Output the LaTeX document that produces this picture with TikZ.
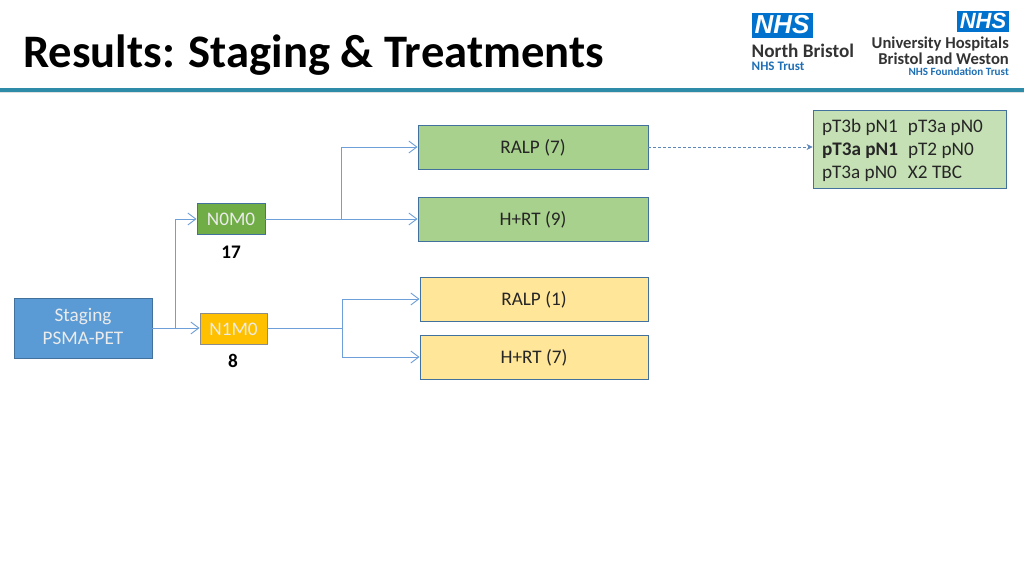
\documentclass[tikz,border=0pt]{standalone}
\usepackage{fontspec}
\setmainfont{Carlito}
\newfontfamily\logofont{Liberation Sans}
\usetikzlibrary{arrows.meta}
\definecolor{edgeblue}{HTML}{41719C}
\definecolor{linkblue}{HTML}{6E9FD8}
\definecolor{stageblue}{HTML}{5B9BD5}
\definecolor{ngreen}{HTML}{70AD47}
\definecolor{nyellow}{HTML}{FFC000}
\definecolor{boxgreen}{HTML}{A9D18E}
\definecolor{boxyellow}{HTML}{FFE699}
\definecolor{palegreen}{HTML}{C5E0B4}
\definecolor{bodytext}{HTML}{262626}
\definecolor{ruleteal}{HTML}{2F8CA8}
\definecolor{nhsblue}{HTML}{0072CE}
\definecolor{logoblue}{HTML}{1F6FB5}
\definecolor{logotext}{HTML}{333333}
\tikzset{
  box/.style={draw=edgeblue,line width=0.9pt,inner sep=0pt,font=\fontsize{19.2}{23}\selectfont,text=bodytext},
  oneline/.style={box,text height=16pt,text depth=3pt},
  treatgreen/.style={oneline,fill=boxgreen,minimum width=230pt,minimum height=44pt},
  treatyellow/.style={oneline,fill=boxyellow,minimum width=228pt,minimum height=44pt},
  stagebox/.style={oneline,text=white!92!black,minimum height=31pt},
  countlabel/.style={font=\fontsize{19.2}{20}\selectfont\bfseries,text=black,inner sep=0pt},
  link/.style={draw=linkblue,line width=1pt},
  linkarrow/.style={link,-{Straight Barb[length=8pt,width=12pt,line width=0.9pt]}},
  nhsbadge/.style={fill=nhsblue,text=white,inner sep=0pt,font=\logofont\bfseries\itshape},
  logoname/.style={inner sep=0pt,text=logotext,font=\bfseries,align=right},
  logosub/.style={inner sep=0pt,text=logoblue,font=\bfseries}
}
\begin{document}
\begin{tikzpicture}[x=1pt,y=-1pt]
\useasboundingbox (0,0) rectangle (1024,576);
% header
\node[anchor=west,inner sep=0pt,font=\fontsize{46.6}{48}\selectfont\bfseries,text=black] (title) at (23,55.5) {Results: Staging \& Treatments};
\fill[black!12] (0,91) rectangle (1024,93);
\fill[ruleteal] (0,87.5) rectangle (1024,91.5);
% logos
\node[nhsbadge,minimum width=61pt,minimum height=25pt,font=\logofont\bfseries\itshape\fontsize{26}{26}\selectfont] (nhsa) at (782,25) {NHS};
\node[logoname,anchor=west,font=\bfseries\fontsize{19.2}{20}\selectfont] (nba) at (751.5,51) {North Bristol};
\node[logosub,anchor=west,font=\bfseries\fontsize{13}{14}\selectfont] (nbb) at (751.5,66) {NHS Trust};
\node[nhsbadge,minimum width=52pt,minimum height=21pt,font=\logofont\bfseries\itshape\fontsize{22}{22}\selectfont] (nhsb) at (983,21) {NHS};
\node[logoname,anchor=east,font=\bfseries\fontsize{16.6}{17}\selectfont] (uha) at (1009,43.5) {University Hospitals};
\node[logoname,anchor=east,font=\bfseries\fontsize{16.6}{17}\selectfont] (uhb) at (1009,58.5) {Bristol and Weston};
\node[logosub,anchor=east,font=\bfseries\fontsize{11.1}{12}\selectfont] (uhc) at (1009,71.5) {NHS Foundation Trust};
% nodes
\node[box,align=center,fill=stageblue,text=white!92!black,minimum width=138pt,minimum height=60pt] (staging) at (83,328) {Staging\\PSMA-PET\rule[-4pt]{0pt}{0pt}};
\node[stagebox,fill=ngreen,minimum width=68pt] (n0) at (231,219) {N0M0};
\node[stagebox,fill=nyellow,minimum width=67pt,draw=black!45] (n1) at (233.5,328.5) {N1M0};
\node[countlabel] (c17) at (231,252) {17};
\node[countlabel] (c8) at (233,361) {8};
\node[treatgreen] (ralpa) at (533,147) {RALP (7)};
\node[treatgreen] (hrta) at (533,219) {H+RT (9)};
\node[treatyellow] (ralpb) at (534,299) {RALP (1)};
\node[treatyellow] (hrtb) at (534,357) {H+RT (7)};
\node[box,fill=palegreen,minimum width=193pt,minimum height=78pt] (detail) at (909.5,149) {%
  \begin{tabular}{@{}p{86pt}@{}p{89pt}@{}}
  \noalign{\vskip4pt}
  pT3b pN1 & pT3a pN0\\
  \textbf{pT3a pN1} & pT2 pN0\\
  pT3a pN0 & X2 TBC
  \end{tabular}};
% connectors
\coordinate (splitv) at (175,328);
\coordinate (split0) at (341,219);
\coordinate (split1) at (342,328);
\draw[linkarrow] (staging.east) -- (n1.west |- staging.east);
\draw[linkarrow] (splitv) |- (n0.west);
\draw[link] (n0.east) -- (split0);
\draw[linkarrow] (split0) -- (hrta.west);
\draw[linkarrow] (split0) |- (ralpa.west);
\draw[link] (n1.east |- split1) -- (split1);
\draw[linkarrow] (split1) |- (ralpb.west);
\draw[linkarrow] (split1) |- (hrtb.west);
\draw[draw=linkblue!85!black,line width=0.7pt,densely dashed,-{Stealth[length=6pt,width=6pt]}] (ralpa.east) -- (detail.west |- ralpa.east);
\end{tikzpicture}
\end{document}
